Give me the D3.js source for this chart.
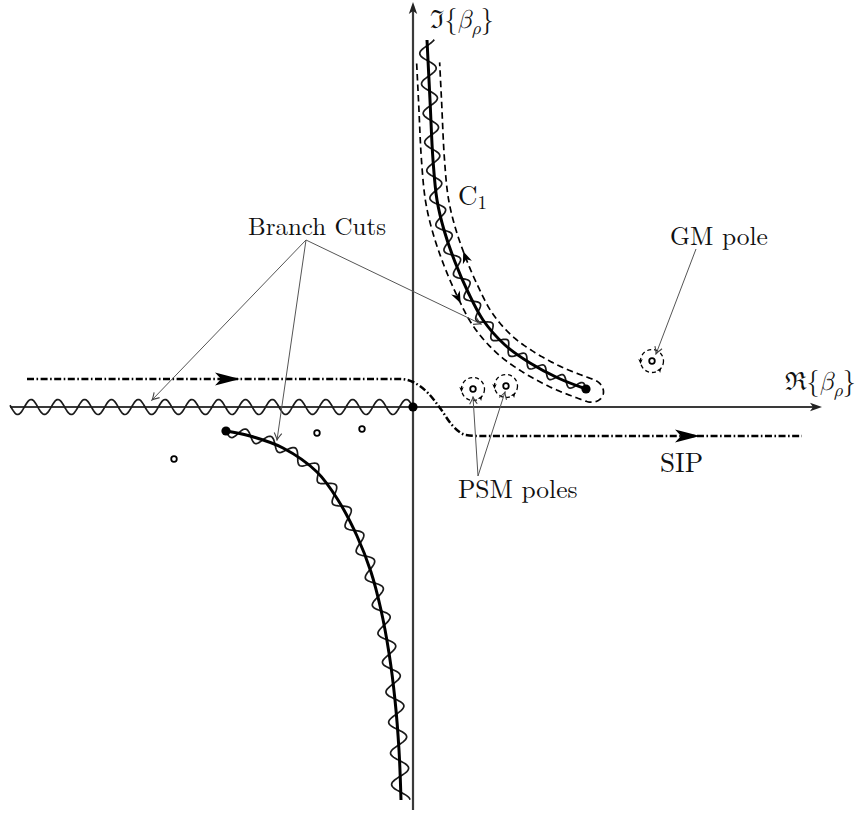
<!DOCTYPE html>
<html>
<head>
<meta charset="utf-8">
<script src="https://cdn.jsdelivr.net/npm/d3@7"></script>
<style>
  body { margin: 0; background: #fff; }
  svg { display: block; }
</style>
</head>
<body>
<svg id="chart" width="865" height="813"></svg>
<script>
// ---- Data: points in the complex beta_rho plane, given as [Re, Im] ----
// Branch cut in the first quadrant, listed from its branch point outward
const upperCut = [[1.73,0.18],[1.45,0.29],[1.17,0.44],[0.92,0.62],[0.70,0.87],[0.55,1.15],
                  [0.42,1.45],[0.31,1.77],[0.24,2.07],[0.20,2.47],[0.17,3.07],[0.14,3.67]];
// Branch cut in the third quadrant, listed from its branch point outward
const lowerCut = [[-1.87,-0.24],[-1.63,-0.29],[-1.30,-0.41],[-0.96,-0.65],[-0.75,-0.93],[-0.56,-1.29],
                  [-0.42,-1.65],[-0.32,-2.03],[-0.24,-2.46],[-0.18,-2.93],[-0.14,-3.43],[-0.12,-3.93]];
// Branch cut along the negative real axis, from the origin outward
const realAxisCut = [[0,0],[-4.03,0]];
const branchPoints = [[0,0],[1.73,0.18],[-1.87,-0.24]];
// Sommerfeld integration path
const sipPath = [[-3.86,0.28],[-0.13,0.28],[0,0.25],[0.15,0.14],[0.27,-0.01],[0.39,-0.18],
                 [0.53,-0.28],[0.67,-0.29],[3.89,-0.29]];
const sipArrowRe = [-1.73, 2.87];
const psmPoles = [[0.60,0.18],[0.93,0.21]];
const gmPoles = [[2.39,0.46]];
const otherPoles = [[-0.96,-0.26],[-0.51,-0.22],[-2.39,-0.52]];
const reExtent = [-4.03, 4.09];
const imExtent = [-4.03, 4.05];
const textLabels = ["Branch Cuts", "GM pole", "PSM poles", "SIP"];

// ---- Layout ----
const W = 865, H = 813;
const SERIF = "Latin Modern Roman, Liberation Serif, DejaVu Serif, serif";
const MATH = "Latin Modern Math, Latin Modern Roman, DejaVu Serif, serif";
const layout = {
  branchText: [-0.96, 1.72], branchFrom: [-1.07, 1.67],
  branchTo: [[-2.61, 0.07], [-1.36, -0.33], [0.68, 0.83]],
  gmText: [2.57, 1.62], gmFrom: [2.83, 1.58], gmTo: [[2.43, 0.53]],
  psmText: [0.45, -0.91], psmFrom: [0.65, -0.69], psmTo: [[0.60, 0.10], [0.92, 0.15]],
  sipText: [2.47, -0.65], c1Text: [0.45, 2.02],
  imLabel: [0.17, 3.79], reLabel: [3.72, 0.17],
  contourOffset: 11.5, contourTrim: 22
};

const x = d3.scaleLinear().domain([-4.13, 4.52]).range([0, W]);
const y = d3.scaleLinear().domain([4.07, -4.06]).range([0, H]);
const P = d => [x(d[0]), y(d[1])];
const svg = d3.select("#chart");
svg.append("rect").attr("width", W).attr("height", H).attr("fill", "#fff");

// ---- helpers ----
function sampleCurve(points, curve) {
  const d = d3.line().x(p => x(p[0])).y(p => y(p[1])).curve(curve)(points);
  const tmp = svg.append("path").attr("d", d).attr("fill", "none").attr("stroke", "none");
  const node = tmp.node(), L = node.getTotalLength(), n = Math.ceil(L);
  const out = [];
  for (let i = 0; i <= n; i++) { const p = node.getPointAtLength(L * i / n); out.push([p.x, p.y]); }
  tmp.remove();
  return out;
}
function frames(pts) {
  const res = []; let s = 0;
  for (let i = 0; i < pts.length; i++) {
    if (i > 0) s += Math.hypot(pts[i][0] - pts[i-1][0], pts[i][1] - pts[i-1][1]);
    const a = pts[Math.max(0, i - 2)], b = pts[Math.min(pts.length - 1, i + 2)];
    const dx = b[0] - a[0], dy = b[1] - a[1], l = Math.hypot(dx, dy) || 1;
    const t = [dx / l, dy / l];
    res.push({ p: pts[i], s, t, n: [-t[1], t[0]] });
  }
  return res;
}
function wave(fr, amp0, amp1, per0, per1) {
  const L = fr[fr.length - 1].s; let ph = 0; const out = [];
  fr.forEach((f, i) => {
    const u = f.s / L;
    if (i > 0) ph += 2 * Math.PI * (f.s - fr[i-1].s) / (per0 + (per1 - per0) * u);
    const a = (amp0 + (amp1 - amp0) * u) * Math.sin(ph);
    out.push([f.p[0] + a * f.n[0], f.p[1] + a * f.n[1]]);
  });
  return d3.line()(out);
}
function stealth(g, tip, u, len, hw, notch, fill) {
  const n = [-u[1], u[0]];
  const b = [tip[0] - len * u[0], tip[1] - len * u[1]];
  const pts = [tip, [b[0] + hw * n[0], b[1] + hw * n[1]],
               [tip[0] - (len - notch) * u[0], tip[1] - (len - notch) * u[1]],
               [b[0] - hw * n[0], b[1] - hw * n[1]]];
  g.append("path").attr("d", "M" + pts.map(p => p.join(",")).join("L") + "Z")
    .attr("fill", fill || "#000").attr("stroke", "none");
}

const defs = svg.append("defs");
defs.append("marker").attr("id", "lead").attr("viewBox", "-8 -5 9 10")
  .attr("refX", 0).attr("refY", 0).attr("markerWidth", 9).attr("markerHeight", 10)
  .attr("markerUnits", "userSpaceOnUse").attr("orient", "auto")
  .append("path").attr("d", "M-7,-3.8 Q-2,-0.6 0,0 Q-2,0.6 -7,3.8")
  .attr("fill", "none").attr("stroke", "#444").attr("stroke-width", 1.1);

// ---- axes ----
const axes = svg.append("g");
axes.append("line").attr("x1", x(reExtent[0])).attr("x2", x(reExtent[1]) - 4)
  .attr("y1", y(0)).attr("y2", y(0)).attr("stroke", "#3a3a3a").attr("stroke-width", 2.2);
axes.append("line").attr("x1", x(0)).attr("x2", x(0))
  .attr("y1", y(imExtent[0])).attr("y2", y(imExtent[1]) + 4).attr("stroke", "#3a3a3a").attr("stroke-width", 2.2);
stealth(axes, [x(reExtent[1]), y(0)], [1, 0], 12, 4.2, 3, "#222");
stealth(axes, [x(0), y(imExtent[1])], [0, -1], 12, 4.2, 3, "#222");

// ---- branch cuts: solid cut + wavy marker ----
const cuts = svg.append("g");
const upFr = frames(sampleCurve(upperCut, d3.curveCatmullRom.alpha(0.5)));
const loFr = frames(sampleCurve(lowerCut, d3.curveCatmullRom.alpha(0.5)));
const reFr = frames(sampleCurve(realAxisCut, d3.curveLinear));

cuts.append("path").attr("d", wave(reFr, 7.5, 7.5, 26.8, 26.8))
  .attr("fill", "none").attr("stroke", "#1a1a1a").attr("stroke-width", 1.7);
cuts.append("path").attr("d", wave(upFr, 4.8, 8, 21, 31))
  .attr("fill", "none").attr("stroke", "#1a1a1a").attr("stroke-width", 1.7);
cuts.append("path").attr("d", wave(loFr, 5.5, 9, 25, 32))
  .attr("fill", "none").attr("stroke", "#1a1a1a").attr("stroke-width", 1.7);

const cutLine = d3.line().x(d => x(d[0])).y(d => y(d[1])).curve(d3.curveCatmullRom.alpha(0.5));
cuts.selectAll(".cut").data([upperCut, lowerCut]).join("path").attr("class", "cut")
  .attr("d", cutLine).attr("fill", "none").attr("stroke", "#000").attr("stroke-width", 3);

// ---- contour C1 wrapped around the first-quadrant cut ----
const contour = svg.append("g");
{
  const off = layout.contourOffset, Lt = upFr[upFr.length - 1].s;
  const kept = upFr.filter(f => f.s <= Lt - layout.contourTrim);
  const outer = kept.map(f => [f.p[0] + off * f.n[0], f.p[1] + off * f.n[1]]);
  const inner = kept.map(f => [f.p[0] - off * f.n[0], f.p[1] - off * f.n[1]]);
  const f0 = upFr[0], away = [-f0.t[0], -f0.t[1]];
  const c = [f0.p[0] + 4 * away[0], f0.p[1] + 4 * away[1]];
  const cap = d3.range(-90, 91, 5).map(deg => {
    const th = deg * Math.PI / 180;
    return [c[0] + 14 * Math.cos(th) * away[0] + off * Math.sin(th) * f0.n[0],
            c[1] + 14 * Math.cos(th) * away[1] + off * Math.sin(th) * f0.n[1]];
  });
  const loop = inner.slice().reverse().concat(cap, outer);
  contour.append("path").attr("d", d3.line().curve(d3.curveLinear)(loop))
    .attr("fill", "none").attr("stroke", "#000").attr("stroke-width", 1.7)
    .attr("stroke-dasharray", "6.5,4");
  // direction arrows: down along the inner side, up along the outer side
  const near = yy => kept.reduce((a, b) => Math.abs(b.p[1] - yy) < Math.abs(a.p[1] - yy) ? b : a);
  const fi = near(y(1.09)), fo = near(y(1.52));
  stealth(contour, [fi.p[0] - off * fi.n[0], fi.p[1] - off * fi.n[1]], [-fi.t[0], -fi.t[1]], 12, 4.8, 3.5);
  stealth(contour, [fo.p[0] + off * fo.n[0], fo.p[1] + off * fo.n[1]], fo.t, 12, 4.8, 3.5);
}

// ---- SIP (dash-dot) ----
const sip = svg.append("g");
const sipLine = d3.line().x(d => x(d[0])).y(d => y(d[1])).curve(d3.curveMonotoneX);
sip.append("path").datum(sipPath).attr("d", sipLine)
  .attr("fill", "none").attr("stroke", "#000").attr("stroke-width", 2.5)
  .attr("stroke-dasharray", "7,2.5,1.6,2.5");
sipArrowRe.forEach(re => {
  const level = re < 0 ? sipPath[0][1] : sipPath[sipPath.length - 1][1];
  stealth(sip, [x(re), y(level)], [1, 0], 25, 6.5, 6);
});

// ---- poles ----
const poles = svg.append("g");
psmPoles.concat(gmPoles).forEach(d => {
  const c = P(d), r = 11.5;
  poles.append("circle").attr("cx", c[0]).attr("cy", c[1]).attr("r", r)
    .attr("fill", "none").attr("stroke", "#000").attr("stroke-width", 1.3).attr("stroke-dasharray", "4,3");
  stealth(poles, [c[0] - r, c[1] + 3], [0, 1], 5, 2.2, 1.2);
  const a = Math.PI / 5;
  stealth(poles, [c[0] + r * Math.cos(a), c[1] + r * Math.sin(a)], [Math.sin(a), -Math.cos(a)], 5, 2.2, 1.2);
});
poles.selectAll(".pole").data(psmPoles.concat(gmPoles, otherPoles)).join("circle").attr("class", "pole")
  .attr("cx", d => x(d[0])).attr("cy", d => y(d[1])).attr("r", 2.8)
  .attr("fill", "#fff").attr("stroke", "#000").attr("stroke-width", 1.8);

// ---- branch points ----
svg.append("g").selectAll("circle").data(branchPoints).join("circle")
  .attr("cx", d => x(d[0])).attr("cy", d => y(d[1])).attr("r", 4.6).attr("fill", "#000");

// ---- annotations ----
const ann = svg.append("g");
function leaders(from, tos) {
  tos.forEach(t => ann.append("line").attr("x1", x(from[0])).attr("y1", y(from[1]))
    .attr("x2", x(t[0])).attr("y2", y(t[1])).attr("stroke", "#555").attr("stroke-width", 1)
    .attr("marker-end", "url(#lead)"));
}
leaders(layout.branchFrom, layout.branchTo);
leaders(layout.gmFrom, layout.gmTo);
leaders(layout.psmFrom, layout.psmTo);

function label(pos, txt, size, anchor) {
  return ann.append("text").attr("x", x(pos[0])).attr("y", y(pos[1]))
    .attr("font-family", SERIF).attr("font-size", size).attr("fill", "#111")
    .attr("text-anchor", anchor || "start").text(txt);
}
label(layout.branchText, textLabels[0], 25, "middle");
label(layout.gmText, textLabels[1], 25.5);
label(layout.psmText, textLabels[2], 25.5);
label(layout.sipText, textLabels[3], 27);

const c1 = label(layout.c1Text, "", 27);
c1.append("tspan").text("C");
c1.append("tspan").attr("font-size", 19).attr("dy", 4).text("1");

function axisLabel(pos, sym) {
  const t = label(pos, "", 26);
  t.append("tspan").attr("font-family", MATH).text(sym);
  t.append("tspan").text("{");
  t.append("tspan").attr("font-family", MATH).attr("font-style", "italic").text("β");
  t.append("tspan").attr("font-family", MATH).attr("font-style", "italic")
    .attr("font-size", 18).attr("dy", 6).text("ρ");
  t.append("tspan").attr("dy", -6).text("}");
}
axisLabel(layout.imLabel, "ℑ");
axisLabel(layout.reLabel, "ℜ");
</script>
</body>
</html>
